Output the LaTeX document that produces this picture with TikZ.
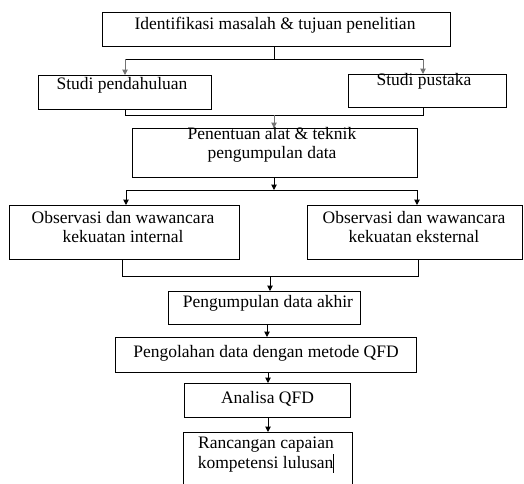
\documentclass[tikz,border=0pt]{standalone}
\usepackage{fontspec}
\setmainfont{Liberation Serif}
\usetikzlibrary{arrows.meta}
\begin{document}
\begin{tikzpicture}[x=1pt,y=-1pt, line width=1pt,
 box/.style={draw, anchor=north west, inner sep=0pt},
 lbl/.style={font=\fontsize{17.5}{19.5}\selectfont, align=center, inner sep=0pt},
 arr/.style={-{Triangle[length=5.5pt,width=5.5pt]}},
 garr/.style={arr, draw=black!55},
]
\useasboundingbox (0,0) rectangle (524,483);
% boxes
\node[box, minimum width=348pt, minimum height=34pt] (b1) at (102,12) {};
\node[box, minimum width=173pt, minimum height=34pt] (b2) at (38,75) {};
\node[box, minimum width=158pt, minimum height=33pt] (b3) at (348,74) {};
\node[box, minimum width=285pt, minimum height=49pt] (b4) at (132,128) {};
\node[box, minimum width=230pt, minimum height=54pt] (b5) at (9,205) {};
\node[box, minimum width=215pt, minimum height=54pt] (b6) at (307,205) {};
\node[box, minimum width=192pt, minimum height=33pt] (b7) at (168,291) {};
\node[box, minimum width=301pt, minimum height=35pt] (b8) at (115,337) {};
\node[box, minimum width=166pt, minimum height=34pt] (b9) at (184,383) {};
\node[box, minimum width=169pt, minimum height=64pt] (b10) at (183,432) {};
% labels
\node[lbl] (t1) at (275,25) {Identifikasi masalah \& tujuan penelitian};
\node[lbl] (t2) at (122,85) {Studi pendahuluan};
\node[lbl] (t3) at (424,81) {Studi pustaka};
\node[lbl] (t4) at (272,145) {Penentuan alat \& teknik\\pengumpulan data};
\node[lbl] (t5) at (123,227) {Observasi dan wawancara\\kekuatan internal};
\node[lbl] (t6) at (414,227) {Observasi dan wawancara\\kekuatan eksternal};
\node[lbl] (t7) at (268,303) {Pengumpulan data akhir};
\node[lbl] (t8) at (266,353) {Pengolahan data dengan metode QFD};
\node[lbl] (t9) at (267.5,399) {Analisa QFD};
\node[lbl] (t10) at (266,455) {Rancangan capaian\\kompetensi lulusan\rule[-0.25em]{0.7pt}{1.05em}};
% junctions
\coordinate (h1l) at (125,59); \coordinate (h1m) at (274,59); \coordinate (h1r) at (423,59);
\coordinate (h2l) at (125,115); \coordinate (h2m) at (274,115); \coordinate (h2r) at (423,115);
\coordinate (h3l) at (126,190); \coordinate (h3m) at (274,190); \coordinate (h3r) at (417,190);
\coordinate (h4l) at (122,276); \coordinate (h4m) at (270,276); \coordinate (h4r) at (418,276);
\coordinate (v7) at (267,324); \coordinate (v8) at (268,372); \coordinate (v9) at (268,417);
% connectors
\draw (h1m |- b1.south) -- (h1m);
\draw (h1l) -- (h1r);
\draw[garr] (h1l) -- (h1l |- b2.north);
\draw[garr] (h1r) -- (h1r |- b3.north);
\draw (h2l |- b2.south) -- (h2l) -- (h2r) -- (h2r |- b3.south);
\draw[garr] (h2m) -- (h2m |- b4.north);
\draw[arr] (h3m |- b4.south) -- (h3m);
\draw (h3l) -- (h3r);
\draw[arr] (h3l) -- (h3l |- b5.north);
\draw[arr] (h3r) -- (h3r |- b6.north);
\draw (h4l |- b5.south) -- (h4l) -- (h4r) -- (h4r |- b6.south);
\draw[arr] (h4m) -- (h4m |- b7.north);
\draw[arr] (v7 |- b7.south) -- (v7 |- b8.north);
\draw[arr] (v8 |- b8.south) -- (v8 |- b9.north);
\draw[arr] (v9 |- b9.south) -- (v9 |- b10.north);
\end{tikzpicture}
\end{document}
